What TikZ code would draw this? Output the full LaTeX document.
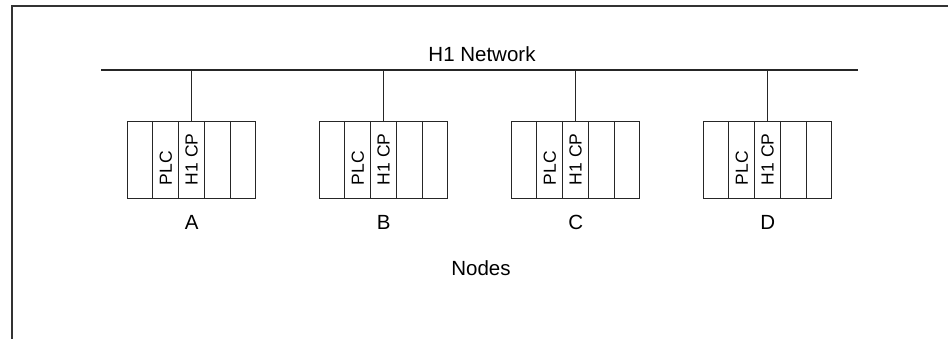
\documentclass[tikz,border=0pt]{standalone}
\usepackage{fontspec}
\setmainfont{Liberation Sans}
\usepackage{tikz}
\usetikzlibrary{positioning,calc}

\begin{document}
\begin{tikzpicture}[x=0.5pt,y=-0.5pt,
frame/.style={draw=black!80,line width=1pt},
bus/.style={draw=black!85,line width=0.75pt},
rack/.style={draw=black!85,line width=0.5pt,minimum width=64.2pt,minimum height=38.5pt,inner sep=0pt},
slotline/.style={draw=black!85,line width=0.5pt},
slotlbl/.style={rotate=90,anchor=west,inner sep=0pt,font=\fontsize{8.75}{10}\selectfont},
lbl/.style={anchor=base,inner sep=0pt,font=\fontsize{10.25}{12}\selectfont}]
\useasboundingbox (0,0) rectangle (948,339);
% outer frame, open at right and bottom
\coordinate (fTR) at (948,6);
\coordinate (fTL) at (12,6);
\coordinate (fBL) at (12,339);
\draw[frame] (fTR) -- (fTL) -- (fBL);
% network line
\coordinate (busL) at (101,70);
\coordinate (busR) at (858,70);
\draw[bus] (busL) -- (busR);
\node[lbl] (net) at (482,61) {H1 Network};
% the four stations
\foreach \n/\x in {A/191.7,B/383.7,C/575.7,D/767.7}{
  \node[rack] (rack\n) at (\x,159.9) {};
  \foreach \k in {1,2,3,4}
    \draw[slotline] ($(rack\n.north west)!\k/5!(rack\n.north east)$) -- ($(rack\n.south west)!\k/5!(rack\n.south east)$);
  \node[slotlbl] (plc\n) at ($(rack\n.south west)!0.3!(rack\n.south east)+(0,-13.5)$) {PLC};
  \node[slotlbl] (cp\n) at ($(rack\n.south)+(0,-13.5)$) {H1 CP};
  \draw[bus,line width=0.5pt] (rack\n.north |- busL) -- (rack\n.north);
  \node[lbl] (lbl\n) at (\x,229) {\n};
}
\node[lbl] (nodes) at (481,275) {Nodes};
\end{tikzpicture}
\end{document}
